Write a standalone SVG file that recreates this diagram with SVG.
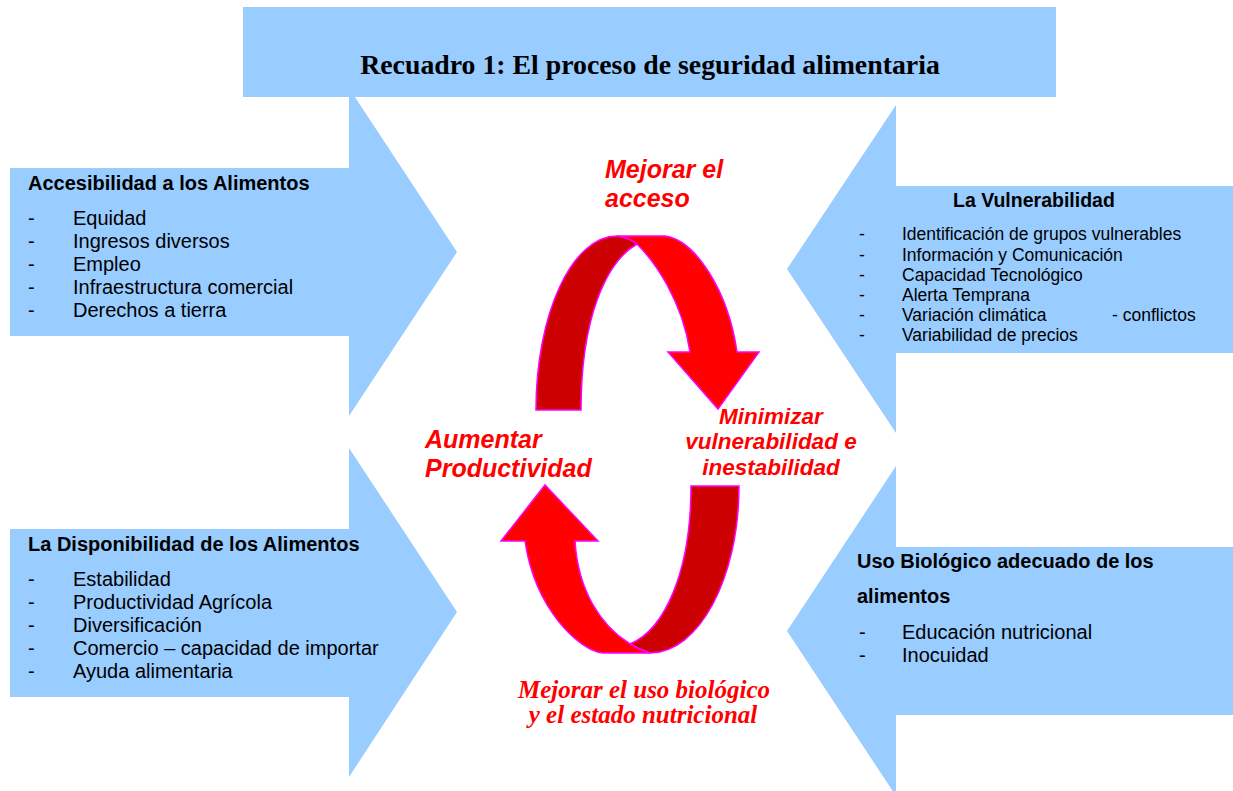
<svg xmlns="http://www.w3.org/2000/svg" width="1233" height="791" viewBox="0 0 1233 791">
<style>
.blue{fill:#99CCFF;stroke:none}
.h{font-family:"Liberation Sans",Arial,sans-serif;font-weight:bold;font-size:20px;fill:#000}
.t{font-family:"Liberation Sans",Arial,sans-serif;font-size:20px;fill:#000}
.ts{font-family:"Liberation Sans",Arial,sans-serif;font-size:17.5px;fill:#000}
.r{font-family:"Liberation Sans",Arial,sans-serif;font-weight:bold;font-style:italic;font-size:25px;fill:#FF0000}
.rs{font-family:"Liberation Sans",Arial,sans-serif;font-weight:bold;font-style:italic;font-size:22.5px;fill:#FF0000}
.rserif{font-family:"Liberation Serif","Times New Roman",serif;font-weight:bold;font-style:italic;font-size:25px;fill:#FF0000}
.dark{fill:#CC0000;stroke:#FF00FF;stroke-width:1.5;stroke-linejoin:miter}
.light{fill:#FF0000;stroke:#FF00FF;stroke-width:1.5;stroke-linejoin:miter}
</style>
<rect width="1233" height="791" fill="#FFFFFF"/>

<g id="accesibilidad">
<path class="blue" d="M10,168 L349,168 L349,88 L457,252 L349,416 L349,336 L10,336 Z"/>
<text class="h" x="28" y="190">Accesibilidad a los Alimentos</text>
<g class="t">
<text x="28" y="225">-</text><text x="73" y="225">Equidad</text>
<text x="28" y="248">-</text><text x="73" y="248">Ingresos diversos</text>
<text x="28" y="271">-</text><text x="73" y="271">Empleo</text>
<text x="28" y="294">-</text><text x="73" y="294">Infraestructura comercial</text>
<text x="28" y="317">-</text><text x="73" y="317">Derechos a tierra</text>
</g>
</g>

<g id="disponibilidad">
<path class="blue" d="M10,529 L349,529 L349,448 L457,612 L349,777 L349,697 L10,697 Z"/>
<text class="h" x="28" y="551">La Disponibilidad de los Alimentos</text>
<g class="t">
<text x="28" y="586">-</text><text x="73" y="586">Estabilidad</text>
<text x="28" y="609">-</text><text x="73" y="609">Productividad Agrícola</text>
<text x="28" y="632">-</text><text x="73" y="632">Diversificación</text>
<text x="28" y="655">-</text><text x="73" y="655">Comercio – capacidad de importar</text>
<text x="28" y="678">-</text><text x="73" y="678">Ayuda alimentaria</text>
</g>
</g>

<g id="vulnerabilidad">
<path class="blue" d="M1233,186 L896,186 L896,105 L787,269 L896,433 L896,353 L1233,353 Z"/>
<text class="h" x="953" y="207" style="font-size:19.5px">La Vulnerabilidad</text>
<g class="ts">
<text x="859" y="240">-</text><text x="902" y="240">Identificación de grupos vulnerables</text>
<text x="859" y="261">-</text><text x="902" y="261">Información y Comunicación</text>
<text x="859" y="281">-</text><text x="902" y="281">Capacidad Tecnológico</text>
<text x="859" y="301">-</text><text x="902" y="301">Alerta Temprana</text>
<text x="859" y="321">-</text><text x="902" y="321">Variación climática</text><text x="1112" y="321">- conflictos</text>
<text x="859" y="341">-</text><text x="902" y="341">Variabilidad de precios</text>
</g>
</g>

<g id="uso-biologico">
<path class="blue" d="M1233,547 L896,547 L896,466 L787,631 L896,796 L896,715 L1233,715 Z"/>
<text class="h" x="857" y="568">Uso Biológico adecuado de los</text>
<text class="h" x="857" y="603">alimentos</text>
<g class="t">
<text x="859" y="639">-</text><text x="902" y="639">Educación nutricional</text>
<text x="859" y="662">-</text><text x="902" y="662">Inocuidad</text>
</g>
</g>

<g id="titulo">
<rect class="blue" x="243" y="7" width="813" height="90"/>
<text x="650" y="74" text-anchor="middle" style="font-family:'Liberation Serif','Times New Roman',serif;font-weight:bold;font-size:27.8px;fill:#000">Recuadro 1: El proceso de seguridad alimentaria</text>
</g>

<g id="connectors">
<path class="dark" d="M536,410 C536,314 572,236 617,236 Q628,237 637,244 C606,262 581,318 581,410 Z"/>
<path class="light" d="M617,236 L665,236 C695,240 728,290 737,352 L759,352 L718,409 L668,352 L690,352 C682,300 655,262 637,244 Q628,237 617,236 Z"/>
<path class="dark" d="M691,486 L739,486 C739,578 699,653 650,653 Q640,650 630,644 C664,630 691,573 691,486 Z"/>
<path class="light" d="M650,653 L603,653 C580,651 535,610 525,541 L501,541 L545,485 L598,541 L575,541 C578,590 600,625 630,644 Q640,650 650,653 Z"/>
</g>

<g id="labels">
<text class="r" x="605" y="178">Mejorar el</text>
<text class="r" x="605" y="207">acceso</text>
<text class="r" x="425" y="448">Aumentar</text>
<text class="r" x="425" y="477">Productividad</text>
<text class="rs" x="771" y="424" text-anchor="middle">Minimizar</text>
<text class="rs" x="771" y="449" text-anchor="middle">vulnerabilidad e</text>
<text class="rs" x="771" y="475" text-anchor="middle">inestabilidad</text>
<text class="rserif" x="644" y="698" text-anchor="middle">Mejorar el uso biológico</text>
<text class="rserif" x="643" y="723" text-anchor="middle">y el estado nutricional</text>
</g>
</svg>
